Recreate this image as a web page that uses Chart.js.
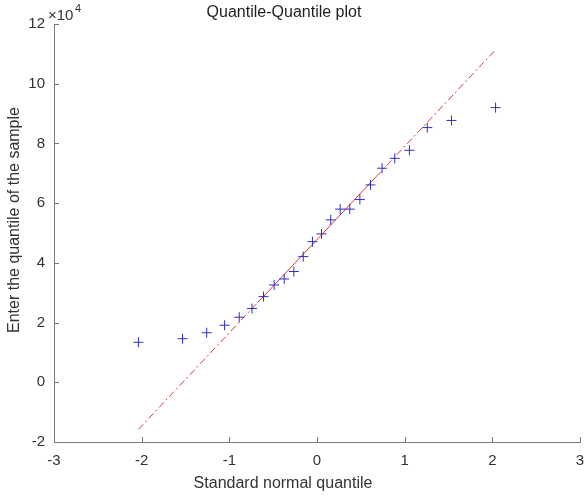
<!DOCTYPE html>
<html>
<head>
<meta charset="utf-8">
<script src="https://cdn.jsdelivr.net/npm/chart.js@4/dist/chart.umd.min.js"></script>
<style>
  html, body { margin: 0; padding: 0; background: #ffffff; }
  #wrap { width: 586px; height: 499px; position: relative; }
</style>
</head>
<body>
<div id="wrap"><canvas id="qq"></canvas></div>
<script>
// standard normal quantiles for 24 samples
const normalQuantiles = [
  -2.037, -1.534, -1.258, -1.054, -0.887, -0.742, -0.610, -0.489,
  -0.374, -0.264, -0.157, -0.052, 0.052, 0.157, 0.264, 0.374,
  0.489, 0.610, 0.742, 0.887, 1.054, 1.258, 1.534, 2.037
];

// sorted sample values
const sampleValues = [
  13400, 14600, 16600, 19100, 21800, 24700, 28700, 32600,
  34600, 37100, 42100, 47100, 49700, 54400, 58000, 58000,
  61200, 66100, 71700, 75000, 77700, 85300, 87700, 92000
];

const xTicks = [-3, -2, -1, 0, 1, 2, 3];
const yTicks = [-20000, 0, 20000, 40000, 60000, 80000, 100000, 120000];

const chartTitle = 'Quantile-Quantile plot';
const xLabel = 'Standard normal quantile';
const yLabel = 'Enter the quantile of the sample';

const FONT = '"Liberation Sans", Arial, Helvetica, sans-serif';

// percentile in the matlab style (midpoint positions, linear interpolation)
function prctile(sorted, p) {
  const n = sorted.length;
  const pos = n * p / 100 + 0.5;
  if (pos <= 1) return sorted[0];
  if (pos >= n) return sorted[n - 1];
  const lo = Math.floor(pos);
  const f = pos - lo;
  return sorted[lo - 1] + f * (sorted[lo] - sorted[lo - 1]);
}

// reference line through the first and third quartiles
const qx1 = prctile(normalQuantiles, 25), qx3 = prctile(normalQuantiles, 75);
const qy1 = prctile(sampleValues, 25), qy3 = prctile(sampleValues, 75);
const slope = (qy3 - qy1) / (qx3 - qx1);
const fitAt = x => qy1 + slope * (x - qx1);
const xLo = normalQuantiles[0], xHi = normalQuantiles[normalQuantiles.length - 1];

const points = normalQuantiles.map((x, i) => ({ x: x, y: sampleValues[i] }));
const lineColor = 'rgb(214, 58, 62)';
const dashDot = [7, 3, 2, 3];

// inward tick marks, title, labels and the exponent note
const axisDecor = {
  id: 'axisDecor',
  afterDraw(chart) {
    const ctx = chart.ctx;
    const xs = chart.scales.x, ys = chart.scales.y;
    const area = chart.chartArea;
    ctx.save();
    ctx.strokeStyle = '#7a7a7a';
    ctx.lineWidth = 1;
    ctx.beginPath();
    xTicks.forEach(v => {
      const px = Math.round(xs.getPixelForValue(v)) + 0.5;
      ctx.moveTo(px, area.bottom);
      ctx.lineTo(px, area.bottom - 5);
    });
    yTicks.forEach(v => {
      const py = Math.round(ys.getPixelForValue(v)) + 0.5;
      ctx.moveTo(area.left, py);
      ctx.lineTo(area.left + 5, py);
    });
    ctx.stroke();

    ctx.fillStyle = '#1f1f1f';
    ctx.textAlign = 'center';
    ctx.textBaseline = 'middle';
    ctx.font = '16px ' + FONT;
    ctx.fillText(chartTitle, 284, 13);
    ctx.fillStyle = '#333333';
    ctx.fillText(xLabel, 283, 484);

    ctx.save();
    ctx.translate(15, 220);
    ctx.rotate(-Math.PI / 2);
    ctx.fillText(yLabel, 0, 0);
    ctx.restore();

    ctx.textAlign = 'left';
    ctx.font = '15px ' + FONT;
    ctx.fillText('\u00d710', 48, 16);
    ctx.font = '11px ' + FONT;
    ctx.fillText('4', 75, 9);
    ctx.restore();
  }
};

new Chart(document.getElementById('qq'), {
  type: 'scatter',
  data: {
    datasets: [
      {
        label: 'sample',
        data: points,
        pointStyle: 'cross',
        pointRadius: 5,
        pointBorderColor: '#2f2fc4',
        pointBorderWidth: 1,
        showLine: false
      },
      {
        label: 'fit low',
        data: [{ x: xLo, y: fitAt(xLo) }, { x: qx1, y: fitAt(qx1) }],
        showLine: true,
        borderColor: lineColor,
        borderWidth: 1,
        borderDash: dashDot,
        pointRadius: 0
      },
      {
        label: 'fit mid',
        data: [{ x: qx1, y: fitAt(qx1) }, { x: qx3, y: fitAt(qx3) }],
        showLine: true,
        borderColor: lineColor,
        borderWidth: 1,
        pointRadius: 0
      },
      {
        label: 'fit high',
        data: [{ x: qx3, y: fitAt(qx3) }, { x: xHi, y: fitAt(xHi) }],
        showLine: true,
        borderColor: lineColor,
        borderWidth: 1,
        borderDash: dashDot,
        pointRadius: 0
      }
    ]
  },
  options: {
    responsive: true,
    maintainAspectRatio: false,
    animation: false,
    layout: { padding: { top: 24, right: 2, left: 0, bottom: 0 } },
    plugins: {
      legend: { display: false },
      tooltip: { enabled: false },
      title: { display: false }
    },
    scales: {
      x: {
        type: 'linear',
        min: -3,
        max: 3,
        grid: { display: false, drawTicks: false },
        border: { display: true, color: '#7a7a7a', width: 1 },
        afterBuildTicks: s => { s.ticks = xTicks.map(v => ({ value: v })); },
        ticks: {
          color: '#333333',
          font: { family: FONT, size: 15 },
          padding: 10,
          maxRotation: 0,
          callback: v => String(v)
        },
        afterFit: s => { s.height = 57; s.paddingLeft = 0; s.paddingRight = 0; }
      },
      y: {
        type: 'linear',
        min: -20000,
        max: 120000,
        grid: { display: false, drawTicks: false },
        border: { display: true, color: '#7a7a7a', width: 1 },
        afterBuildTicks: s => { s.ticks = yTicks.map(v => ({ value: v })); },
        ticks: {
          color: '#333333',
          font: { family: FONT, size: 15 },
          padding: 9,
          callback: v => String(v / 10000)
        },
        afterFit: s => { s.width = 54; s.paddingTop = 0; s.paddingBottom = 0; }
      }
    }
  },
  plugins: [axisDecor]
});
</script>
</body>
</html>
